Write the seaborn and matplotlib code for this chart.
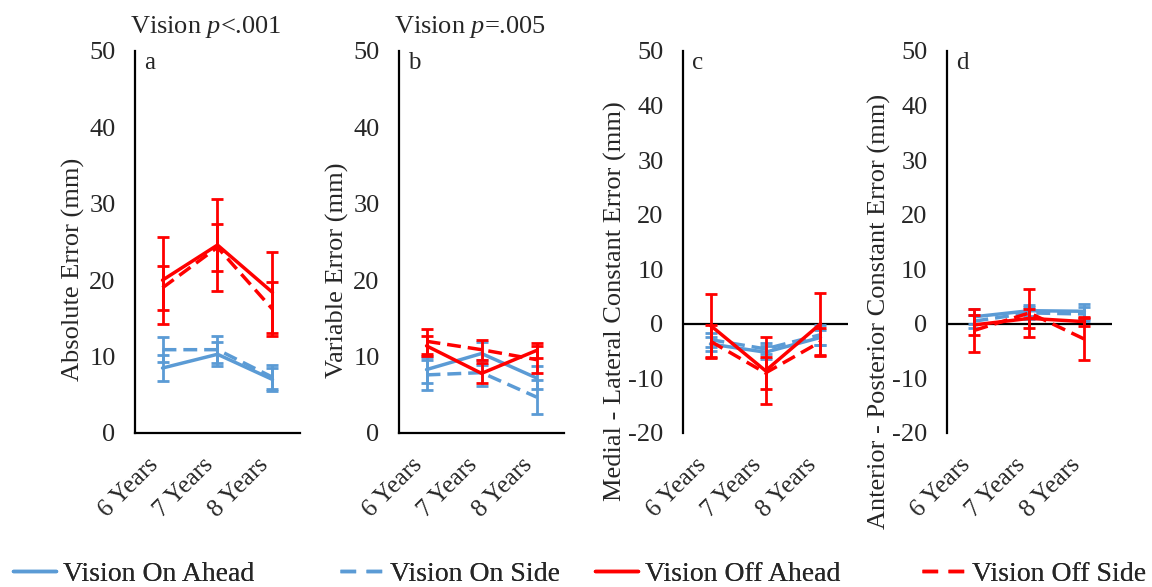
import matplotlib
matplotlib.use("Agg")
import matplotlib.pyplot as plt
import matplotlib.transforms as mtransforms
import numpy as np
import pandas as pd
import seaborn as sns
from matplotlib.lines import Line2D

# ---- data -------------------------------------------------------------
ages = ["6 Years", "7 Years", "8 Years"]
conditions = ["Vision On Ahead", "Vision On Side", "Vision Off Ahead", "Vision Off Side"]

# (a) absolute error, means and error-bar half widths (mm)
abs_mean = {
    "Vision On Ahead": [8.5, 10.3, 7.0],
    "Vision On Side": [10.9, 10.9, 7.3],
    "Vision Off Ahead": [20.0, 24.6, 18.4],
    "Vision Off Side": [19.0, 24.3, 16.2],
}
abs_err = {
    "Vision On Ahead": [1.65, 1.6, 1.5],
    "Vision On Side": [1.65, 1.8, 1.6],
    "Vision Off Ahead": [5.7, 6.0, 5.3],
    "Vision Off Side": [2.9, 3.1, 3.5],
}

# (b) variable error
var_mean = {
    "Vision On Ahead": [8.3, 10.4, 7.2],
    "Vision On Side": [7.6, 7.9, 4.7],
    "Vision Off Ahead": [11.4, 7.8, 10.8],
    "Vision Off Side": [12.0, 10.9, 9.6],
}
var_err = {
    "Vision On Ahead": [1.7, 1.5, 1.5],
    "Vision On Side": [2.0, 1.7, 2.2],
    "Vision Off Ahead": [1.3, 1.3, 1.0],
    "Vision Off Side": [1.6, 1.3, 1.8],
}

# (c) medial - lateral constant error
ml_mean = {
    "Vision On Ahead": [-3.7, -5.2, -2.5],
    "Vision On Side": [-2.9, -4.6, -2.0],
    "Vision Off Ahead": [-0.3, -8.6, 0.0],
    "Vision Off Side": [-3.2, -9.0, -3.3],
}
ml_err = {
    "Vision On Ahead": [1.2, 1.2, 1.4],
    "Vision On Side": [1.3, 1.0, 1.8],
    "Vision Off Ahead": [5.7, 6.1, 5.7],
    "Vision Off Side": [3.0, 3.0, 2.6],
}

# (d) anterior - posterior constant error
ap_mean = {
    "Vision On Ahead": [1.3, 2.4, 2.3],
    "Vision On Side": [0.5, 2.0, 1.8],
    "Vision Off Ahead": [-0.2, 1.0, 0.4],
    "Vision Off Side": [-1.2, 2.0, -2.8],
}
ap_err = {
    "Vision On Ahead": [1.4, 1.0, 1.4],
    "Vision On Side": [1.2, 1.1, 1.2],
    "Vision Off Ahead": [1.8, 1.8, 0.8],
    "Vision Off Side": [3.9, 4.4, 3.8],
}

# ---- style --------------------------------------------------------------
sns.set_style("white")
plt.rcParams["font.family"] = ["Liberation Serif", "DejaVu Serif"]
plt.rcParams["mathtext.fontset"] = "custom"
plt.rcParams["mathtext.rm"] = "Liberation Serif"
plt.rcParams["mathtext.it"] = "Liberation Serif:italic"
plt.rcParams["axes.unicode_minus"] = False

BLUE = "#5b9bd5"
RED = "#ff0000"
colors = {"Vision On Ahead": BLUE, "Vision On Side": BLUE,
          "Vision Off Ahead": RED, "Vision Off Side": RED}
styles = {"Vision On Ahead": "-", "Vision On Side": (0, (4, 2)),
          "Vision Off Ahead": "-", "Vision Off Side": (0, (4, 2))}
legend_styles = {"Vision On Ahead": "-", "Vision On Side": (0, (4.5, 3)),
                 "Vision Off Ahead": "-", "Vision Off Side": (0, (4.5, 3))}
layer = {"Vision On Ahead": 2, "Vision On Side": 2.5,
         "Vision Off Ahead": 3, "Vision Off Side": 3.5}

fig = plt.figure(figsize=(11.52, 5.87), dpi=100)
lefts = [0.1172, 0.3464, 0.5929, 0.8220]
bottom, width, height = 0.2624, 0.1432, 0.6508
nudge = mtransforms.ScaledTranslation(3 / 100, 0, fig.dpi_scale_trans)


def draw_panel(ax, means, errs, ymin, ylabel, letter, label_x, label_y, title=None):
    x = np.arange(len(ages))
    for cond in conditions:
        df = pd.DataFrame({"age": x, "value": means[cond]})
        ax.errorbar(x, means[cond], yerr=errs[cond], fmt="none",
                    ecolor=colors[cond], elinewidth=2.0, capsize=4,
                    capthick=2.0, zorder=layer[cond])
        sns.lineplot(data=df, x="age", y="value", ax=ax, color=colors[cond],
                     linestyle=styles[cond], linewidth=2.5, sort=False,
                     estimator=None, zorder=layer[cond] + 0.1, legend=False)
    ax.set_xlim(-0.5, 2.5)
    ax.set_ylim(ymin, 50)
    ax.set_yticks(np.arange(ymin, 51, 10))
    ax.set_xticks(x)
    ax.set_xticklabels(ages, rotation=45, ha="right")
    for lab in ax.get_xticklabels():
        lab.set_transform(lab.get_transform() + nudge)
    ax.tick_params(axis="y", length=0, pad=14, labelsize=19)
    ax.tick_params(axis="x", length=0, pad=15, labelsize=18)
    ax.set_xlabel("")
    ax.set_ylabel(ylabel, fontsize=19)
    ax.yaxis.set_label_coords(label_x, label_y)
    for side in ["top", "right"]:
        ax.spines[side].set_visible(False)
    ax.spines["left"].set_linewidth(1.6)
    ax.spines["left"].set_color("black")
    if ymin < 0:
        ax.spines["bottom"].set_visible(False)
        ax.axhline(0, color="black", linewidth=1.6, zorder=1.5)
    else:
        ax.spines["bottom"].set_linewidth(1.6)
        ax.spines["bottom"].set_color("black")
    ax.text(0.055, 0.968, letter, transform=ax.transAxes, fontsize=18,
            ha="left", va="center")
    if title:
        ax.text(-0.03, 1.047, title, transform=ax.transAxes, fontsize=19,
                ha="left", va="baseline")


panels = [
    (abs_mean, abs_err, 0, "Absolute Error (mm)", "a", -0.305, 0.427, "Vision $p$<.001"),
    (var_mean, var_err, 0, "Variable Error (mm)", "b", -0.305, 0.427, "Vision $p$=.005"),
    (ml_mean, ml_err, -20, "Medial - Lateral Constant Error (mm)", "c", -0.34, 0.346, None),
    (ap_mean, ap_err, -20, "Anterior - Posterior Constant Error (mm)", "d", -0.34, 0.319, None),
]
for left, (m, e, ymin, yl, let, lx, ly, ttl) in zip(lefts, panels):
    ax = fig.add_axes([left, bottom, width, height])
    draw_panel(ax, m, e, ymin, yl, let, lx, ly, ttl)

# ---- legend along the bottom -----------------------------------------
legend_x = [0.0113, 0.295, 0.5165, 0.800]
for lx, cond in zip(legend_x, conditions):
    handle = Line2D([], [], color=colors[cond], linestyle=legend_styles[cond],
                    linewidth=2.5)
    leg = fig.legend([handle], [cond], loc="center left", bbox_to_anchor=(lx, 0.022),
                     frameon=False, fontsize=20, handlelength=1.55,
                     handletextpad=0.25, borderpad=0, borderaxespad=0)
    fig.add_artist(leg)

fig.savefig("out.png", dpi=100)
